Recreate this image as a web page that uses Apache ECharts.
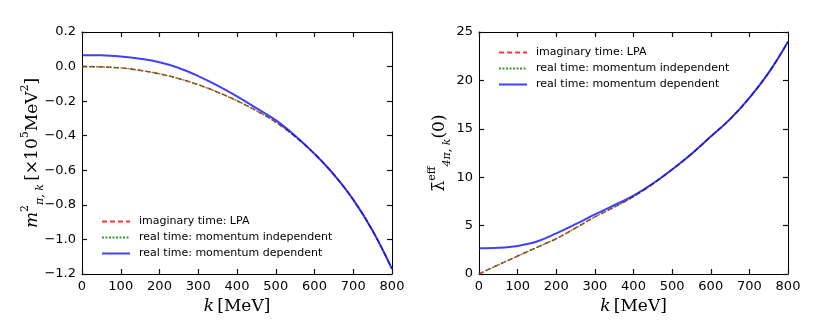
<!DOCTYPE html>
<html>
<head>
<meta charset="utf-8">
<script src="https://cdn.jsdelivr.net/npm/echarts@6/dist/echarts.min.js"></script>
<style>
  html, body { margin: 0; padding: 0; background: #fff; }
  #main { width: 830px; height: 323px; }
</style>
</head>
<body>
<div id="main"></div>
<script>
// k grid in MeV
var kVals = [0, 50, 100, 150, 200, 250, 300, 350, 400, 450, 500, 550, 600, 650, 700, 750, 800];

// left panel: m^2_{pi,k} [x10^5 MeV^2]
var massLPA = [0.0, -0.002, -0.008, -0.022, -0.042, -0.07, -0.105, -0.148, -0.198, -0.255, -0.322, -0.405, -0.505, -0.625, -0.77, -0.95, -1.17];
var massIndep = [0.0, -0.002, -0.008, -0.022, -0.042, -0.07, -0.105, -0.148, -0.198, -0.255, -0.322, -0.405, -0.505, -0.625, -0.77, -0.95, -1.17];
var massDep = [0.066, 0.065, 0.058, 0.045, 0.025, -0.008, -0.055, -0.11, -0.172, -0.24, -0.31, -0.4, -0.505, -0.625, -0.77, -0.95, -1.17];

// right panel: lambda^eff_{4pi,k}(0)
var lamLPA = [0.0, 0.95, 1.85, 2.75, 3.65, 4.75, 5.9, 6.9, 8.0, 9.3, 10.8, 12.4, 14.2, 16.0, 18.2, 20.8, 24.0];
var lamIndep = [0.0, 0.95, 1.85, 2.75, 3.65, 4.75, 5.9, 6.9, 8.0, 9.3, 10.8, 12.4, 14.2, 16.0, 18.2, 20.8, 24.0];
var lamDep = [2.65, 2.7, 2.9, 3.35, 4.2, 5.15, 6.15, 7.1, 8.1, 9.35, 10.8, 12.4, 14.2, 16.0, 18.2, 20.8, 24.0];

var names = ['imaginary time: LPA', 'real time: momentum independent', 'real time: momentum dependent'];

function pairs(ys) {
    return kVals.map(function (k, i) { return [k, ys[i]]; });
}

function minus(v) {
    return String(v).replace('-', '\u2212');
}

var serif = 'DejaVu Serif';

function frameLine() {
    return { show: true, onZero: false, lineStyle: { color: '#000', width: 1 } };
}
function inTick() {
    return { show: true, inside: true, length: 5, lineStyle: { color: '#111', width: 1.2 } };
}
function tickLabel(fmt) {
    return { show: true, margin: 6, fontFamily: 'DejaVu Sans', fontSize: 13, color: '#000', formatter: fmt };
}

function bottomAxis(gi) {
    return {
        type: 'value', gridIndex: gi, position: 'bottom', min: 0, max: 800, interval: 100,
        axisLine: frameLine(), axisTick: inTick(),
        axisLabel: tickLabel(function (v) { return String(v); }),
        splitLine: { show: false },
        name: '{it|k} {rm|[MeV]}', nameLocation: 'middle', nameGap: 24,
        nameTextStyle: {
            rich: {
                it: { fontFamily: serif, fontStyle: 'italic', fontSize: 17, color: '#000' },
                rm: { fontFamily: serif, fontSize: 17, color: '#000' }
            }
        }
    };
}

function topAxis(gi) {
    return {
        type: 'value', gridIndex: gi, position: 'top', min: 0, max: 800, interval: 100,
        axisLine: frameLine(), axisTick: inTick(),
        axisLabel: { show: false }, splitLine: { show: false }
    };
}

function leftAxis(gi, mn, mx, step, digits, name, gap, rich, moveOverlap) {
    return {
        type: 'value', gridIndex: gi, position: 'left', min: mn, max: mx, interval: step,
        axisLine: frameLine(), axisTick: inTick(),
        axisLabel: tickLabel(function (v) { return minus(v.toFixed(digits)); }),
        splitLine: { show: false },
        name: name, nameLocation: 'middle', nameRotate: 90, nameGap: gap,
        nameMoveOverlap: moveOverlap,
        nameTextStyle: { rich: rich }
    };
}

function rightAxis(gi, mn, mx, step) {
    return {
        type: 'value', gridIndex: gi, position: 'right', min: mn, max: mx, interval: step,
        axisLine: frameLine(), axisTick: inTick(),
        axisLabel: { show: false }, splitLine: { show: false }
    };
}

function richSet(mainItalic) {
    return {
        it: { fontFamily: serif, fontStyle: mainItalic ? 'italic' : 'normal', fontSize: 17, color: '#000', lineHeight: 26 },
        rm: { fontFamily: serif, fontSize: 17, color: '#000', lineHeight: 26 },
        sup: { fontFamily: serif, fontSize: 11, color: '#000', verticalAlign: 'top', lineHeight: 26 },
        sub: { fontFamily: serif, fontStyle: 'italic', fontSize: 11, color: '#000', verticalAlign: 'bottom', lineHeight: 26 }
    };
}

var styles = [
    { color: 'rgba(255,0,0,0.8)', width: 1.6, type: [5, 3] },
    { color: 'rgba(0,128,0,0.8)', width: 1.3, type: [2, 1.5] },
    { color: 'rgba(0,0,255,0.75)', width: 2, type: 'solid' }
];

function mkSeries(gi, arrs) {
    return arrs.map(function (ys, i) {
        return {
            name: names[i], type: 'line', xAxisIndex: gi * 2, yAxisIndex: gi * 2,
            data: pairs(ys), smooth: 0.4, showSymbol: false, symbol: 'none',
            lineStyle: styles[i], itemStyle: { color: styles[i].color },
            animation: false
        };
    });
}

function mkLegend(left, top) {
    return {
        left: left, top: top, orient: 'vertical', padding: 0,
        itemWidth: 28, itemHeight: 10, itemGap: 5,
        itemStyle: { opacity: 0 },
        textStyle: { fontFamily: 'DejaVu Sans', fontSize: 11, color: '#000', padding: [0, 0, 0, 4] },
        data: names, selectedMode: false
    };
}

var myChart = echarts.init(document.getElementById('main'), null, { renderer: 'canvas' });
var option = {
    backgroundColor: '#fff',
    animation: false,
    grid: [
        { left: 82, top: 32, width: 310, height: 242 },
        { left: 479, top: 32, width: 309, height: 242 }
    ],
    legend: [mkLegend(101, 216), mkLegend(498, 47)],
    xAxis: [bottomAxis(0), topAxis(0), bottomAxis(1), topAxis(1)],
    yAxis: [
        leftAxis(0, -1.2, 0.2, 0.2, 1, '{it|m}{sup|2}{sub|\u03c0, k} {rm|[\u00d710}{sup|5}{rm|MeV}{sup|2}{rm|]}', 36, richSet(true), false),
        rightAxis(0, -1.2, 0.2, 0.2),
        leftAxis(1, 0, 25, 5, 0, '{it|\u03bb\u0304}{sup|eff}{sub|4\u03c0, k}{rm|(0)}', 24, richSet(false), true),
        rightAxis(1, 0, 25, 5)
    ],
    series: mkSeries(0, [massLPA, massIndep, massDep]).concat(mkSeries(1, [lamLPA, lamIndep, lamDep]))
};
myChart.setOption(option);
</script>
</body>
</html>
